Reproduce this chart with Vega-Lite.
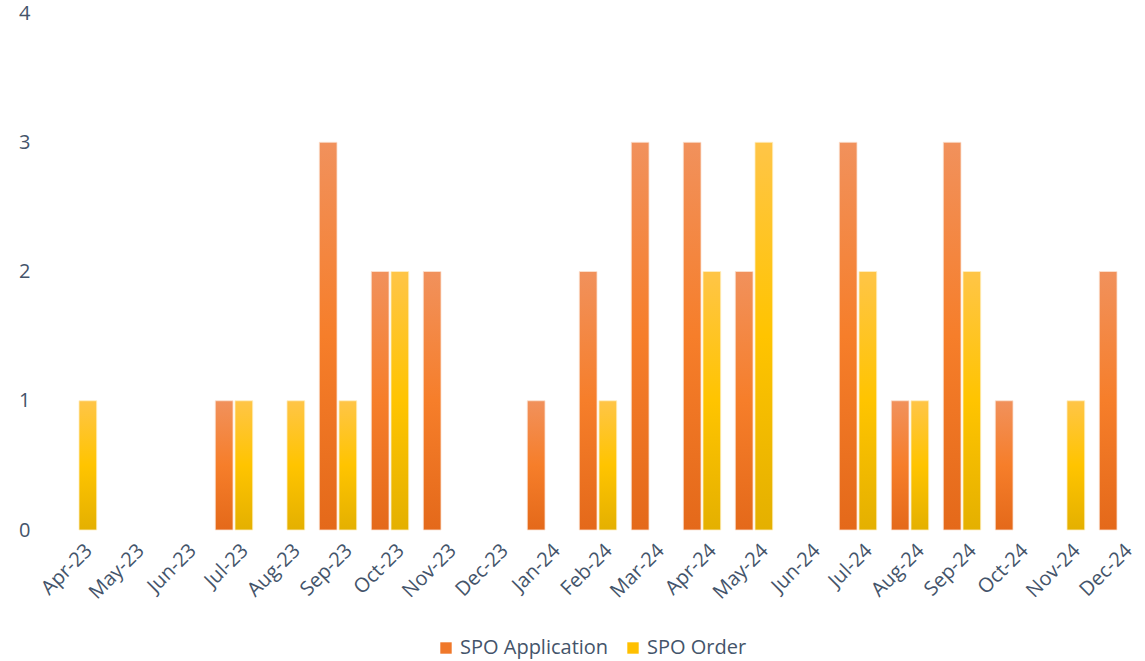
{
  "$schema": "https://vega.github.io/schema/vega-lite/v6.json",
  "width": 1092,
  "height": 517,
  "autosize": {"type": "none"},
  "padding": {"left": 52, "top": 13, "right": 1, "bottom": 131},
  "background": "white",
  "config": {
    "view": {"stroke": null},
    "font": "Open Sans",
    "axis": {"labelFont": "Open Sans", "labelColor": "#44546A", "labelFontSize": 20, "grid": false, "domain": false, "ticks": false, "title": null, "labelOverlap": false},
    "legend": {"labelFont": "Open Sans", "labelColor": "#44546A", "labelFontSize": 20}
  },
  "data": {
    "values": [
      {"month": "Apr-23", "series": "SPO Application", "value": 0},
      {"month": "Apr-23", "series": "SPO Order", "value": 1},
      {"month": "May-23", "series": "SPO Application", "value": 0},
      {"month": "May-23", "series": "SPO Order", "value": 0},
      {"month": "Jun-23", "series": "SPO Application", "value": 0},
      {"month": "Jun-23", "series": "SPO Order", "value": 0},
      {"month": "Jul-23", "series": "SPO Application", "value": 1},
      {"month": "Jul-23", "series": "SPO Order", "value": 1},
      {"month": "Aug-23", "series": "SPO Application", "value": 0},
      {"month": "Aug-23", "series": "SPO Order", "value": 1},
      {"month": "Sep-23", "series": "SPO Application", "value": 3},
      {"month": "Sep-23", "series": "SPO Order", "value": 1},
      {"month": "Oct-23", "series": "SPO Application", "value": 2},
      {"month": "Oct-23", "series": "SPO Order", "value": 2},
      {"month": "Nov-23", "series": "SPO Application", "value": 2},
      {"month": "Nov-23", "series": "SPO Order", "value": 0},
      {"month": "Dec-23", "series": "SPO Application", "value": 0},
      {"month": "Dec-23", "series": "SPO Order", "value": 0},
      {"month": "Jan-24", "series": "SPO Application", "value": 1},
      {"month": "Jan-24", "series": "SPO Order", "value": 0},
      {"month": "Feb-24", "series": "SPO Application", "value": 2},
      {"month": "Feb-24", "series": "SPO Order", "value": 1},
      {"month": "Mar-24", "series": "SPO Application", "value": 3},
      {"month": "Mar-24", "series": "SPO Order", "value": 0},
      {"month": "Apr-24", "series": "SPO Application", "value": 3},
      {"month": "Apr-24", "series": "SPO Order", "value": 2},
      {"month": "May-24", "series": "SPO Application", "value": 2},
      {"month": "May-24", "series": "SPO Order", "value": 3},
      {"month": "Jun-24", "series": "SPO Application", "value": 0},
      {"month": "Jun-24", "series": "SPO Order", "value": 0},
      {"month": "Jul-24", "series": "SPO Application", "value": 3},
      {"month": "Jul-24", "series": "SPO Order", "value": 2},
      {"month": "Aug-24", "series": "SPO Application", "value": 1},
      {"month": "Aug-24", "series": "SPO Order", "value": 1},
      {"month": "Sep-24", "series": "SPO Application", "value": 3},
      {"month": "Sep-24", "series": "SPO Order", "value": 2},
      {"month": "Oct-24", "series": "SPO Application", "value": 1},
      {"month": "Oct-24", "series": "SPO Order", "value": 0},
      {"month": "Nov-24", "series": "SPO Application", "value": 0},
      {"month": "Nov-24", "series": "SPO Order", "value": 1},
      {"month": "Dec-24", "series": "SPO Application", "value": 2},
      {"month": "Dec-24", "series": "SPO Order", "value": 0}
    ]
  },
  "encoding": {
    "x": {
      "field": "month", "type": "nominal", "sort": null,
      "scale": {
        "domain": ["Apr-23","May-23","Jun-23","Jul-23","Aug-23","Sep-23","Oct-23","Nov-23","Dec-23","Jan-24","Feb-24","Mar-24","Apr-24","May-24","Jun-24","Jul-24","Aug-24","Sep-24","Oct-24","Nov-24","Dec-24"],
        "paddingInner": 0.28, "paddingOuter": 0.14
      },
      "axis": {"labelAngle": -45, "labelPadding": 10, "labelOffset": 4}
    },
    "xOffset": {
      "field": "series", "type": "nominal",
      "scale": {"domain": ["SPO Application", "SPO Order"], "paddingInner": 0.1}
    },
    "y": {
      "field": "value", "type": "quantitative",
      "scale": {"domain": [0, 4]},
      "axis": {"values": [0, 1, 2, 3, 4], "labelPadding": 22}
    }
  },
  "layer": [
    {
      "transform": [{"filter": "datum.series === 'SPO Application' && datum.value > 0"}],
      "mark": {
        "type": "bar",
        "fill": {"gradient": "linear", "x1": 0, "y1": 0, "x2": 0, "y2": 1,
          "stops": [
            {"offset": 0, "color": "#F1915C"},
            {"offset": 0.5, "color": "#F67E2A"},
            {"offset": 1, "color": "#E4691A"}
          ]},
        "stroke": "#FBE3D4", "strokeWidth": 0.8
      }
    },
    {
      "transform": [{"filter": "datum.series === 'SPO Order' && datum.value > 0"}],
      "mark": {
        "type": "bar",
        "fill": {"gradient": "linear", "x1": 0, "y1": 0, "x2": 0, "y2": 1,
          "stops": [
            {"offset": 0, "color": "#FFC547"},
            {"offset": 0.5, "color": "#FFC400"},
            {"offset": 1, "color": "#E4B000"}
          ]},
        "stroke": "#FFF0C4", "strokeWidth": 0.8
      }
    },
    {
      "transform": [{"filter": "datum.value < 0"}],
      "mark": {"type": "bar"},
      "encoding": {
        "color": {
          "field": "series", "type": "nominal",
          "scale": {"domain": ["SPO Application", "SPO Order"], "range": ["#F0782A", "#FFC000"]},
          "legend": {
            "orient": "none", "legendX": 384, "legendY": 625, "direction": "horizontal", "title": null,
            "symbolType": "square", "symbolSize": 130, "symbolStrokeWidth": 0,
            "columnPadding": 14, "labelOffset": 4
          }
        }
      }
    }
  ]
}
